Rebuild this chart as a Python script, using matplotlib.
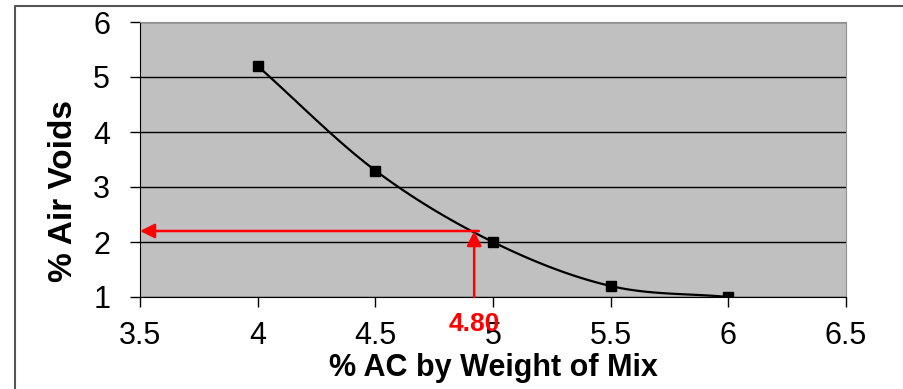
import matplotlib.pyplot as plt
import numpy as np
from matplotlib.lines import Line2D

plt.rcParams['font.family'] = ['Liberation Sans', 'DejaVu Sans']

# data
ac_pct = [4.0, 4.5, 5.0, 5.5, 6.0]
air_voids = [5.2, 3.3, 2.0, 1.2, 1.0]
target_voids = 2.2
target_ac = 4.92
target_label = '4.80'


def smooth_curve(x, y, n=30):
    # Catmull-Rom spline through the points, like Excel's smoothed line
    x = np.asarray(x, float)
    y = np.asarray(y, float)
    px = np.concatenate([[2 * x[0] - x[1]], x, [2 * x[-1] - x[-2]]])
    py = np.concatenate([[2 * y[0] - y[1]], y, [2 * y[-1] - y[-2]]])
    xs, ys = [], []
    t = np.linspace(0, 1, n)
    for i in range(1, len(px) - 2):
        for p, out in ((px, xs), (py, ys)):
            p0, p1, p2, p3 = p[i - 1], p[i], p[i + 1], p[i + 2]
            out.extend(0.5 * (2 * p1 + (-p0 + p2) * t
                              + (2 * p0 - 5 * p1 + 4 * p2 - p3) * t ** 2
                              + (-p0 + 3 * p1 - 3 * p2 + p3) * t ** 3))
    return xs, ys


fig = plt.figure(figsize=(9.04, 3.89), dpi=100)
ax = fig.add_axes([140 / 904, 92 / 389, 706 / 904, 275 / 389])
ax.set_facecolor('#c0c0c0')

sx, sy = smooth_curve(ac_pct, air_voids)
ax.plot(sx, sy, color='black', lw=1.6, zorder=3)
ax.plot(ac_pct, air_voids, 's', color='black', ms=7, zorder=4)

ax.set_xlim(3.5, 6.5)
ax.set_ylim(1, 6)
ax.set_xticks([3.5, 4, 4.5, 5, 5.5, 6, 6.5])
ax.set_xticklabels(['3.5', '4', '4.5', '5', '5.5', '6', '6.5'])
ax.set_yticks([1, 2, 3, 4, 5, 6])
ax.yaxis.grid(True, color='black', lw=1)
ax.set_axisbelow(True)
ax.tick_params(direction='out', length=7.5, width=1, labelsize=22)
ax.tick_params(axis='x', pad=10)
ax.tick_params(axis='y', pad=14)

for s in ('top', 'right'):
    ax.spines[s].set_color('#909090')
for s in ('left', 'bottom'):
    ax.spines[s].set_color('black')

ax.set_xlabel('% AC by Weight of Mix', fontsize=22, fontweight='bold', labelpad=1)
ax.set_ylabel('% Air Voids', fontsize=24, fontweight='bold')
ax.yaxis.set_label_coords(-0.087, 0.385)

# red construction arrows
ax.annotate('', xy=(3.5, target_voids), xytext=(target_ac + 0.02, target_voids),
            arrowprops=dict(arrowstyle='-|>', color='red', lw=1.8,
                            mutation_scale=22, shrinkA=0, shrinkB=0), zorder=5)
ax.annotate('', xy=(target_ac, target_voids), xytext=(target_ac, 1),
            arrowprops=dict(arrowstyle='-|>', color='red', lw=1.8,
                            mutation_scale=22, shrinkA=0, shrinkB=0), zorder=5)
ax.text(target_ac, 0.51, target_label, color='red', fontsize=19,
        fontweight='bold', ha='center', va='center', zorder=6,
        clip_on=False)

# outer frame of the figure
fig.add_artist(Line2D([15 / 904, 15 / 904, 1], [0, 1 - 6 / 389, 1 - 6 / 389],
                      color='#555555', lw=1.5, transform=fig.transFigure))

fig.savefig('out.png', dpi=100)
